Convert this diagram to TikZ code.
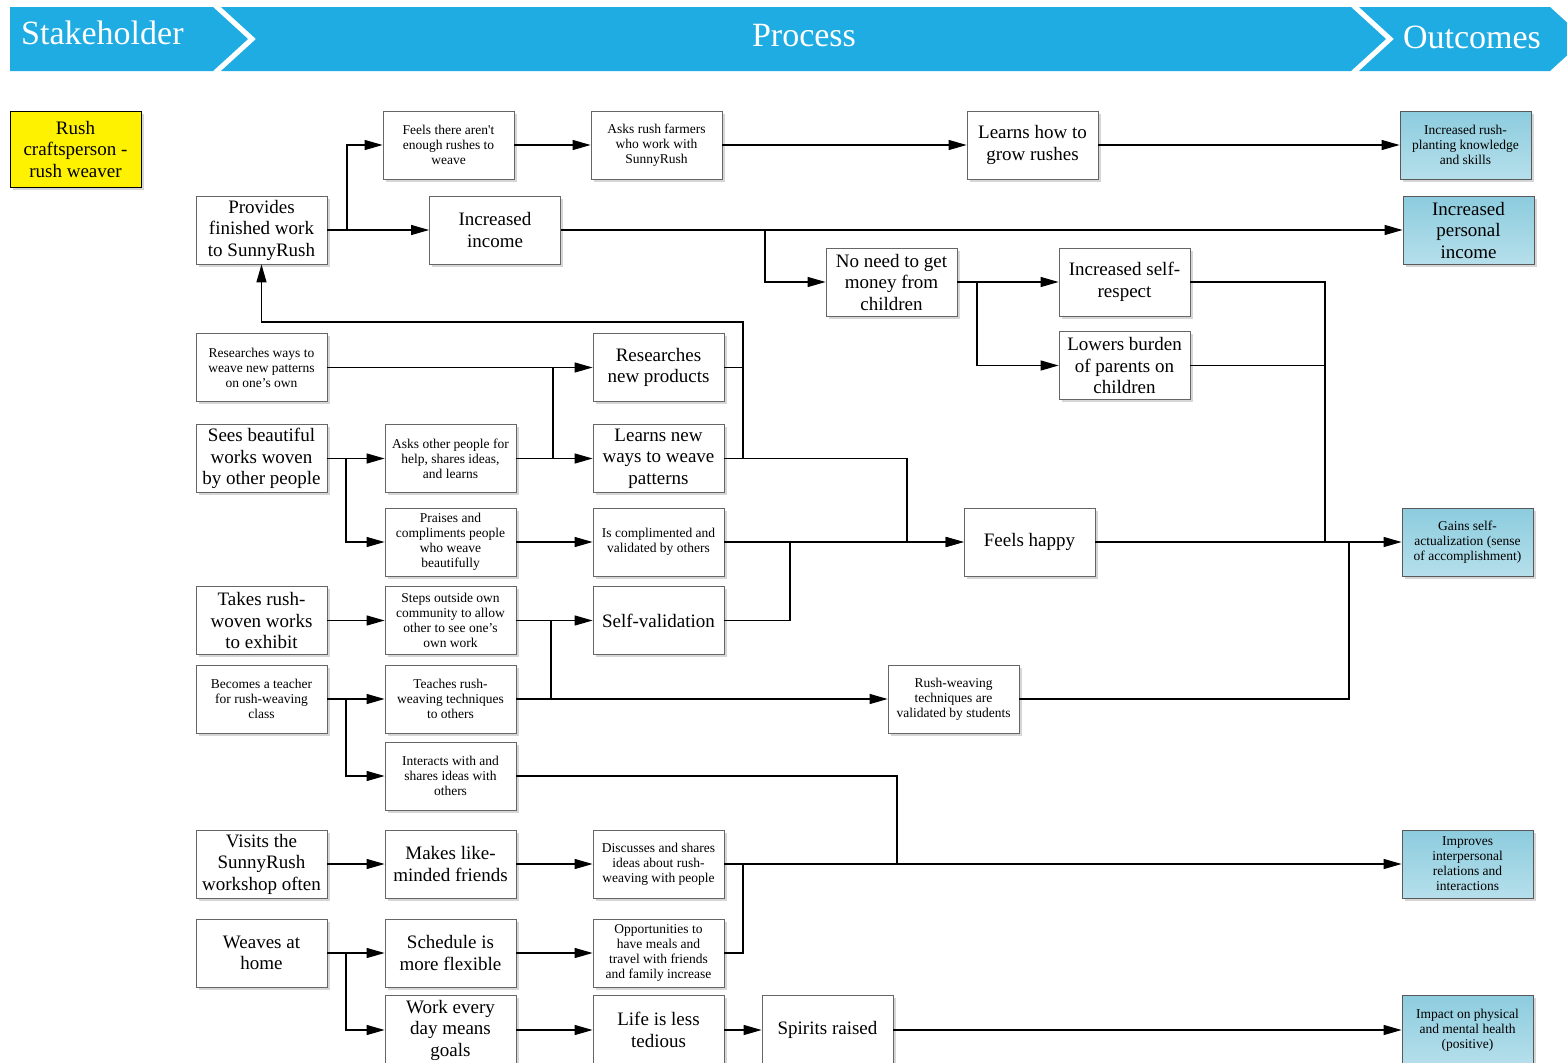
\documentclass[tikz,border=0pt]{standalone}
\usepackage{fontspec}
\setmainfont{Liberation Serif}
\usetikzlibrary{arrows.meta,shadows}
\definecolor{banner}{RGB}{31,172,227}
\definecolor{outtop}{RGB}{140,204,222}
\definecolor{outbot}{RGB}{182,223,235}

\tikzset{
  box/.style={draw=black!60, line width=0.8pt, fill=white,
    minimum width=131pt, minimum height=68pt, inner sep=1pt, align=center,
    drop shadow={shadow xshift=2.5pt, shadow yshift=-2.5pt, opacity=0.16, fill=black}},
  med/.style={font=\fontsize{19}{21.5}\selectfont},
  sml/.style={font=\fontsize{13.5}{15}\selectfont},
  outcome/.style={box, draw=black!65, top color=outtop, bottom color=outbot, text=black},
  stakebox/.style={box, fill=yellow, draw=black, line width=1pt, minimum height=76pt},
  tall/.style={minimum height=70pt},
  wire/.style={line width=1.2pt},
  arr/.style={wire, -{Triangle[length=18pt,width=10pt]}},
  bannertext/.style={text=white, font=\fontsize{34}{40}\selectfont, inner sep=0pt}
}

\begin{document}
\begin{tikzpicture}[x=1pt,y=-1pt]
\useasboundingbox (0,0) rectangle (1567,1063);
\clip (0,0) rectangle (1567,1063);
\fill[white] (0,0) rectangle (1567,1063);

% header chevrons
\fill[banner] (10,7) -- (213,7) -- (248,39) -- (213,71) -- (10,71) -- cycle;
\fill[banner] (221,7) -- (1351,7) -- (1386,39) -- (1351,71) -- (221,71) -- (256,39) -- cycle;
\fill[banner] (1359,7) -- (1550,7) -- (1585,39) -- (1550,71) -- (1359,71) -- (1394,39) -- cycle;
\node[bannertext, anchor=base west] (hs) at (21,44) {Stakeholder};
\node[bannertext, anchor=base] (hp) at (804,46) {Process};
\node[bannertext, anchor=base] (ho) at (1472,48) {Outcomes};

% junction points of the wiring
\coordinate (jProv) at (347,0);
\coordinate (jInc) at (765,0);
\coordinate (jNeed) at (977,0);
\coordinate (jResp) at (1325,542);
\coordinate (jVal) at (1349,542);
\coordinate (jRes) at (553,0);
\coordinate (jSee) at (346,0);
\coordinate (jBack) at (743,322);
\coordinate (jLearn) at (907,542);
\coordinate (jSelf) at (790,542);
\coordinate (jStep) at (551,0);
\coordinate (jInt) at (897,0);
\coordinate (jOpp) at (743,0);

% stakeholder
\node[stakebox, med] (craft) at (75.5,149) {Rush\\craftsperson -\\rush weaver};

% process boxes
\node[box, med] (prov) at (261.5,230) {Provides\\finished work\\to SunnyRush};
\node[box, sml] (feels) at (448.5,145) {Feels there aren\textquotesingle t\\enough rushes to\\weave};
\node[box, sml] (asksf) at (656.5,145) {Asks rush farmers\\who work with\\SunnyRush};
\node[box, med] (grow) at (1032.5,145) {Learns how to\\grow rushes};
\node[box, med] (incinc) at (495,230) {Increased\\income};
\node[box, med] (noneed) at (891.5,282) {No need to get\\money from\\children};
\node[box, med] (selfresp) at (1124.5,282) {Increased self-\\respect};
\node[box, med] (lowers) at (1124.5,365.5) {Lowers burden\\of parents on\\children};
\node[box, sml] (resways) at (261.5,367.5) {Researches ways to\\weave new patterns\\on one’s own};
\node[box, med] (resprod) at (658.5,367.5) {Researches\\new products};
\node[box, med] (sees) at (261.5,458.5) {Sees beautiful\\works woven\\by other people};
\node[box, sml] (askpeople) at (450.5,458.5) {Asks other people for\\help, shares ideas,\\and learns};
\node[box, med] (learnnew) at (658.5,458.5) {Learns new\\ways to weave\\patterns};
\node[box, sml] (praises) at (450.5,542) {Praises and\\compliments people\\who weave\\beautifully};
\node[box, sml] (compl) at (658.5,542) {Is complimented and\\validated by others};
\node[box, med] (happy) at (1029.5,542) {Feels happy};
\node[box, med] (takes) at (261.5,620.5) {Takes rush-\\woven works\\to exhibit};
\node[box, sml] (steps) at (450.5,620.5) {Steps outside own\\community to allow\\other to see one’s\\own work};
\node[box, med] (selfval) at (658.5,620.5) {Self-validation};
\node[box, sml] (becomes) at (261.5,699) {Becomes a teacher\\for rush-weaving\\class};
\node[box, sml] (teaches) at (450.5,699) {Teaches rush-\\weaving techniques\\to others};
\node[box, sml] (validated) at (953.5,699) {Rush-weaving\\techniques are\\validated by students};
\node[box, sml] (interacts) at (450.5,776) {Interacts with and\\shares ideas with\\others};
\node[box, med] (visits) at (261.5,864) {Visits the\\SunnyRush\\workshop often};
\node[box, med] (makes) at (450.5,864) {Makes like-\\minded friends};
\node[box, sml] (discusses) at (658.5,864) {Discusses and shares\\ideas about rush-\\weaving with people};
\node[box, med] (weaves) at (261.5,953) {Weaves at\\home};
\node[box, med] (schedule) at (450.5,953) {Schedule is\\more flexible};
\node[box, sml] (opps) at (658.5,953) {Opportunities to\\have meals and\\travel with friends\\and family increase};
\node[box, med, tall] (work) at (450.5,1030) {Work every\\day means\\goals};
\node[box, med, tall] (life) at (658.5,1030) {Life is less\\tedious};
\node[box, med, tall] (spirits) at (827.5,1030) {Spirits raised};

% outcome boxes
\node[outcome, sml] (oKnow) at (1465.5,145) {Increased rush-\\planting knowledge\\and skills};
\node[outcome, med] (oIncome) at (1468.5,230) {Increased\\personal\\income};
\node[outcome, sml] (oSelf) at (1467.5,542) {Gains self-\\actualization (sense\\of accomplishment)};
\node[outcome, sml] (oInter) at (1467.5,864) {Improves\\interpersonal\\relations and\\interactions};
\node[outcome, sml, tall] (oHealth) at (1467.5,1030) {Impact on physical\\and mental health\\(positive)};

% top rows
\draw[arr] (prov.east) -- (prov.east -| jProv) |- (feels.west);
\draw[arr] (prov.east) -- (incinc.west);
\draw[arr] (feels) -- (asksf);
\draw[arr] (asksf) -- (grow);
\draw[arr] (grow) -- (oKnow);
\draw[arr] (incinc.east) -- (oIncome.west);
\draw[arr] (incinc.east) -- (incinc.east -| jInc) |- (noneed.west);
\draw[arr] (noneed) -- (selfresp);
\draw[arr] (noneed.east) -- (noneed.east -| jNeed) |- (lowers.west);
\draw[wire] (selfresp.east) -| (jResp);
\draw[wire] (lowers.east) -- (lowers.east -| jResp);

% patterns and learning
\draw[arr] (resways.east) -- (resprod.west);
\draw[wire] (resways.east -| jRes) -- (askpeople.east -| jRes);
\draw[arr] (sees) -- (askpeople);
\draw[arr] (sees.east) -- (sees.east -| jSee) |- (praises.west);
\draw[arr] (askpeople) -- (learnnew);
\draw[wire] (resprod.east) -- (resprod.east -| jBack);
\draw[arr] (learnnew.east) -| (jBack) -| (prov.south);
\draw[arr] (learnnew.east) -| (jLearn) -- (happy.west);
\draw[arr] (praises) -- (compl);
\draw[arr] (compl) -- (happy);
\draw[arr] (happy) -- (oSelf);

% exhibiting and teaching
\draw[arr] (takes) -- (steps);
\draw[arr] (steps) -- (selfval);
\draw[wire] (selfval.east) -| (jSelf);
\draw[wire] (teaches.east) -| (steps.east -| jStep);
\draw[arr] (becomes) -- (teaches);
\draw[arr] (becomes.east) -- (becomes.east -| jSee) |- (interacts.west);
\draw[arr] (teaches) -- (validated);
\draw[wire] (validated.east) -| (jVal);
\draw[wire] (interacts.east) -| (oInter.west -| jInt);

% workshop and home
\draw[arr] (visits) -- (makes);
\draw[arr] (makes) -- (discusses);
\draw[arr] (discusses) -- (oInter);
\draw[wire] (opps.east) -| (discusses.east -| jOpp);
\draw[arr] (weaves) -- (schedule);
\draw[arr] (weaves.east) -- (weaves.east -| jSee) |- (work.west);
\draw[arr] (schedule) -- (opps);
\draw[arr] (work) -- (life);
\draw[arr] (life) -- (spirits);
\draw[arr] (spirits) -- (oHealth);
\end{tikzpicture}
\end{document}
